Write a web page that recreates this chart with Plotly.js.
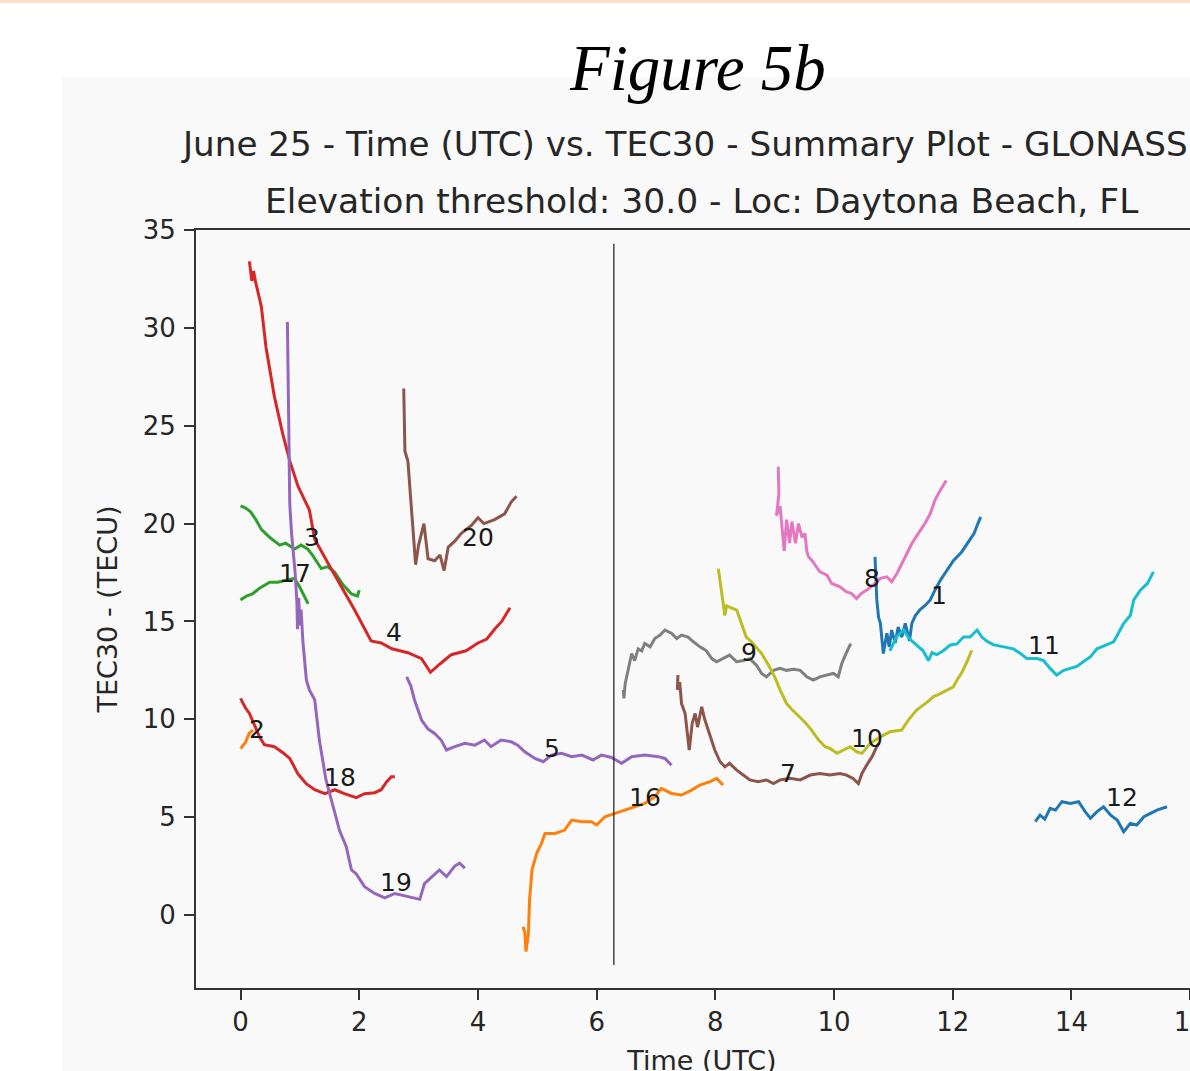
<!DOCTYPE html>
<html>
<head>
<meta charset="utf-8">
<script src="https://cdn.plot.ly/plotly-3.0.1.min.js"></script>
<style>
  html, body { margin: 0; padding: 0; background: #ffffff; overflow: hidden; width: 1190px; height: 1071px; }
  #topline { position: absolute; left: 0; top: 0; width: 1190px; height: 3px; background: #fcdcca; }
  #bg { position: absolute; left: 62px; top: 77px; width: 1128px; height: 994px; background: #f9f9f9; }
  #chart { position: absolute; left: 0; top: 0; width: 1218px; height: 1095px; }
</style>
</head>
<body>
<div id="topline"></div>
<div id="bg"></div>
<div id="chart"></div>
<script>
// ---------------- DATA ----------------
const sat1_t   = [10.69, 10.70, 10.72, 10.75, 10.78, 10.83, 10.89, 10.93, 10.97, 11.03, 11.08, 11.14, 11.20, 11.27, 11.31, 11.37, 11.45, 11.53, 11.62, 11.70, 11.79, 11.90, 12.01, 12.15, 12.27, 12.36, 12.41, 12.47];
const sat1_tec = [18.3, 17.2, 16.1, 15.2, 14.9, 13.36, 14.4, 13.7, 14.56, 13.9, 14.72, 14.2, 14.9, 14.0, 14.9, 15.3, 15.6, 15.8, 16.1, 16.6, 17.1, 17.6, 18.1, 18.55, 19.07, 19.5, 19.9, 20.34];

const sat2_t   = [0.0, 0.08, 0.15, 0.21];
const sat2_tec = [8.5, 8.8, 9.3, 9.45];

const sat3_t   = [0.0, 0.08, 0.17, 0.26, 0.35, 0.49, 0.66, 0.76, 0.91, 1.02, 1.13, 1.21, 1.36, 1.47, 1.59, 1.72, 1.87, 1.97, 2.0];
const sat3_tec = [20.9, 20.8, 20.6, 20.2, 19.7, 19.3, 18.9, 19.0, 18.7, 18.9, 18.7, 18.4, 17.7, 17.8, 17.5, 16.9, 16.4, 16.3, 16.6];

const sat4_t   = [0.15, 0.19, 0.22, 0.25, 0.35, 0.43, 0.57, 0.71, 0.83, 0.97, 1.16, 1.25, 1.47, 1.70, 1.92, 2.20, 2.37, 2.55, 2.82, 3.05, 3.20, 3.35, 3.55, 3.80, 4.00, 4.15, 4.28, 4.40, 4.54];
const sat4_tec = [33.4, 32.4, 32.9, 32.4, 31.1, 29.0, 26.5, 24.6, 23.2, 21.9, 20.7, 19.2, 18.0, 16.8, 15.6, 14.0, 13.9, 13.6, 13.4, 13.1, 12.4, 12.8, 13.3, 13.5, 13.9, 14.1, 14.6, 15.0, 15.7];

const sat5_t   = [2.80, 2.87, 2.93, 3.05, 3.16, 3.27, 3.38, 3.47, 3.61, 3.78, 3.95, 4.11, 4.22, 4.39, 4.56, 4.67, 4.79, 4.96, 5.10, 5.24, 5.41, 5.58, 5.75, 5.94, 6.08, 6.25, 6.42, 6.59, 6.81, 7.04, 7.15, 7.26];
const sat5_tec = [12.17, 11.7, 11.0, 9.96, 9.5, 9.28, 8.94, 8.43, 8.6, 8.77, 8.68, 8.94, 8.6, 8.94, 8.85, 8.68, 8.34, 8.0, 7.83, 8.17, 8.26, 8.09, 8.17, 7.92, 8.17, 8.05, 7.75, 8.09, 8.17, 8.09, 8.0, 7.66];

const sat7_t   = [7.37, 7.36, 7.40, 7.43, 7.49, 7.56, 7.61, 7.66, 7.70, 7.77, 7.82, 7.91, 7.99, 8.08, 8.16, 8.24, 8.36, 8.47, 8.58, 8.72, 8.86, 8.98, 9.09, 9.26, 9.43, 9.60, 9.76, 9.93, 10.10, 10.21, 10.32, 10.41, 10.47, 10.55, 10.64, 10.72, 10.75];
const sat7_tec = [12.26, 11.5, 11.9, 10.8, 10.3, 8.43, 9.8, 10.3, 9.6, 10.64, 10.0, 9.1, 8.43, 7.83, 7.57, 7.75, 7.4, 7.15, 6.9, 6.81, 6.9, 6.72, 6.9, 6.98, 6.9, 7.15, 7.23, 7.15, 7.23, 7.15, 6.98, 6.72, 7.23, 7.66, 8.09, 8.6, 8.77];

const sat8_t   = [9.06, 9.07, 9.03, 9.09, 9.16, 9.20, 9.25, 9.29, 9.35, 9.40, 9.46, 9.51, 9.54, 9.57, 9.63, 9.76, 9.88, 9.96, 10.10, 10.21, 10.29, 10.38, 10.46, 10.55, 10.66, 10.78, 10.89, 10.97, 11.06, 11.17, 11.31, 11.42, 11.53, 11.62, 11.70, 11.79, 11.89];
const sat8_tec = [22.9, 21.5, 20.4, 20.9, 18.6, 20.2, 19.0, 20.1, 19.0, 20.0, 19.3, 19.5, 18.6, 18.3, 18.1, 17.53, 17.36, 16.94, 16.77, 16.51, 16.43, 16.17, 16.43, 16.6, 16.86, 17.2, 17.28, 17.02, 17.45, 18.1, 18.98, 19.5, 20.0, 20.5, 21.2, 21.7, 22.2];

const sat9_t   = [6.45, 6.46, 6.48, 6.53, 6.59, 6.64, 6.70, 6.76, 6.81, 6.90, 6.98, 7.07, 7.15, 7.26, 7.35, 7.43, 7.54, 7.63, 7.74, 7.85, 7.94, 8.02, 8.13, 8.24, 8.36, 8.47, 8.58, 8.69, 8.78, 8.86, 8.98, 9.09, 9.20, 9.32, 9.43, 9.54, 9.65, 9.76, 9.88, 9.99, 10.07, 10.13, 10.19, 10.28];
const sat9_tec = [11.5, 11.07, 11.8, 12.5, 13.36, 13.0, 13.6, 13.5, 13.87, 13.7, 14.13, 14.3, 14.56, 14.4, 14.13, 14.3, 14.2, 13.96, 13.7, 13.5, 13.1, 12.94, 13.1, 13.28, 12.94, 13.0, 13.1, 12.77, 12.34, 12.17, 12.5, 12.6, 12.5, 12.55, 12.5, 12.17, 12.0, 12.17, 12.26, 12.34, 12.17, 12.85, 13.28, 13.87];

const sat10_t   = [8.05, 8.10, 8.16, 8.19, 8.27, 8.36, 8.44, 8.52, 8.61, 8.69, 8.78, 8.89, 9.00, 9.09, 9.20, 9.29, 9.40, 9.51, 9.62, 9.74, 9.85, 9.93, 10.05, 10.16, 10.27, 10.38, 10.47, 10.61, 10.78, 10.94, 11.14, 11.25, 11.39, 11.58, 11.67, 11.78, 11.90, 12.01, 12.07, 12.16, 12.24, 12.32];
const sat10_tec = [17.7, 16.6, 15.3, 15.8, 15.7, 15.58, 14.9, 14.2, 13.96, 13.7, 13.36, 12.8, 12.17, 11.5, 10.8, 10.5, 10.2, 9.85, 9.45, 8.94, 8.6, 8.51, 8.26, 8.43, 8.6, 8.34, 8.26, 8.77, 9.1, 9.36, 9.45, 9.96, 10.47, 10.9, 11.15, 11.3, 11.5, 11.66, 12.0, 12.43, 12.94, 13.53];

const sat11_t   = [10.94, 11.05, 11.17, 11.25, 11.31, 11.42, 11.50, 11.59, 11.65, 11.73, 11.84, 11.96, 12.07, 12.18, 12.29, 12.41, 12.49, 12.57, 12.69, 12.86, 13.02, 13.14, 13.25, 13.42, 13.53, 13.64, 13.75, 13.87, 13.98, 14.09, 14.20, 14.32, 14.43, 14.60, 14.71, 14.79, 14.88, 14.99, 15.05, 15.16, 15.28, 15.38];
const sat11_tec = [13.5, 14.2, 14.56, 14.2, 14.0, 13.7, 13.5, 13.0, 13.4, 13.3, 13.5, 13.8, 13.85, 14.2, 14.2, 14.56, 14.2, 14.0, 13.8, 13.7, 13.6, 13.36, 13.1, 13.1, 13.0, 12.6, 12.26, 12.5, 12.6, 12.7, 12.94, 13.2, 13.6, 13.8, 13.96, 14.4, 14.9, 15.3, 16.1, 16.6, 16.94, 17.53];

const sat12_t   = [13.39, 13.47, 13.55, 13.64, 13.73, 13.84, 13.98, 14.12, 14.23, 14.32, 14.43, 14.54, 14.66, 14.77, 14.88, 14.99, 15.10, 15.22, 15.33, 15.44, 15.61];
const sat12_tec = [4.77, 5.1, 4.9, 5.45, 5.36, 5.79, 5.7, 5.79, 5.28, 4.94, 5.28, 5.53, 5.1, 4.85, 4.25, 4.68, 4.6, 5.02, 5.19, 5.36, 5.53];

const sat16_t   = [4.76, 4.79, 4.81, 4.85, 4.87, 4.91, 4.99, 5.07, 5.13, 5.30, 5.46, 5.58, 5.75, 5.91, 6.0, 6.14, 6.31, 6.48, 6.64, 6.81, 6.98, 7.09, 7.26, 7.43, 7.60, 7.74, 7.91, 8.02, 8.13];
const sat16_tec = [-0.6, -0.9, -1.87, -0.95, 0.77, 2.3, 3.15, 3.66, 4.17, 4.17, 4.34, 4.85, 4.77, 4.77, 4.6, 5.02, 5.19, 5.36, 5.53, 5.7, 6.04, 6.47, 6.21, 6.13, 6.38, 6.64, 6.81, 6.98, 6.64];

const sat17_t   = [0.0, 0.10, 0.20, 0.32, 0.49, 0.63, 0.76, 0.91, 0.99, 1.08, 1.14];
const sat17_tec = [16.1, 16.3, 16.4, 16.7, 17.0, 17.0, 17.1, 17.2, 16.8, 16.3, 15.9];

const sat18_t   = [0.0, 0.08, 0.15, 0.25, 0.32, 0.40, 0.57, 0.71, 0.83, 0.97, 1.11, 1.25, 1.42, 1.59, 1.75, 1.95, 2.09, 2.26, 2.37, 2.46, 2.54, 2.60];
const sat18_tec = [11.07, 10.6, 10.3, 9.6, 9.1, 8.7, 8.6, 8.3, 8.0, 7.2, 6.7, 6.4, 6.2, 6.4, 6.2, 6.0, 6.2, 6.25, 6.4, 6.8, 7.06, 7.06];

const sat19_t   = [0.79, 0.80, 0.82, 0.83, 0.86, 0.88, 0.92, 0.95, 0.96, 0.98, 1.00, 1.02, 1.05, 1.11, 1.16, 1.25, 1.33, 1.44, 1.56, 1.67, 1.78, 1.87, 1.95, 2.09, 2.26, 2.43, 2.60, 2.82, 3.02, 3.10, 3.27, 3.35, 3.47, 3.61, 3.69, 3.78];
const sat19_tec = [30.3, 28.5, 24.0, 21.0, 19.5, 18.8, 17.5, 16.0, 14.6, 16.2, 14.8, 15.6, 14.0, 12.0, 11.5, 11.0, 8.9, 6.9, 5.5, 4.3, 3.5, 2.3, 2.1, 1.45, 1.1, 0.87, 1.1, 0.94, 0.8, 1.6, 2.1, 2.3, 1.96, 2.5, 2.65, 2.4];

const sat20_t   = [2.75, 2.77, 2.82, 2.91, 2.95, 3.00, 3.09, 3.16, 3.27, 3.36, 3.43, 3.50, 3.61, 3.72, 3.89, 4.00, 4.10, 4.28, 4.45, 4.56, 4.65];
const sat20_tec = [26.9, 23.7, 23.2, 19.2, 17.9, 18.9, 20.0, 18.2, 18.1, 18.4, 17.6, 18.8, 19.1, 19.5, 19.9, 20.3, 20.0, 20.2, 20.5, 21.1, 21.4];

// satellite labels (text placed in data coordinates)
const labelNames = ['1', '2', '3', '4', '5', '7', '8', '9', '10', '11', '12', '16', '17', '18', '19', '20'];
const labelTime  = [11.62, 0.12, 1.05, 2.43, 5.10, 9.08, 10.49, 8.41, 10.26, 13.25, 14.57, 6.53, 0.63, 1.39, 2.33, 3.72];
const labelTec   = [15.83, 9.0, 18.8, 13.96, 8.0, 6.72, 16.69, 12.94, 8.51, 13.28, 5.53, 5.53, 16.95, 6.55, 1.19, 18.8];

// vertical marker line
const markerTime = [6.29, 6.29];
const markerSpan = [-2.55, 34.3];

// axis ticks
const xTicks = [0, 2, 4, 6, 8, 10, 12, 14, 16];
const yTicks = [0, 5, 10, 15, 20, 25, 30, 35];

const titleLine1 = 'June 25 - Time (UTC) vs. TEC30 - Summary Plot - GLONASS';
const titleLine2 = 'Elevation threshold: 30.0 - Loc: Daytona Beach, FL';

// ---------------- CHART ----------------
const series = [
  ['1', sat1_t, sat1_tec], ['2', sat2_t, sat2_tec], ['3', sat3_t, sat3_tec], ['4', sat4_t, sat4_tec],
  ['5', sat5_t, sat5_tec], ['7', sat7_t, sat7_tec], ['8', sat8_t, sat8_tec], ['9', sat9_t, sat9_tec],
  ['10', sat10_t, sat10_tec], ['11', sat11_t, sat11_tec], ['12', sat12_t, sat12_tec], ['16', sat16_t, sat16_tec],
  ['17', sat17_t, sat17_tec], ['18', sat18_t, sat18_tec], ['19', sat19_t, sat19_tec], ['20', sat20_t, sat20_tec]
];
const cycle = ['#1f77b4', '#ff7f0e', '#2ca02c', '#d62728', '#9467bd', '#8c564b', '#e377c2', '#7f7f7f', '#bcbd22', '#17becf'];

const traces = series.map((s, i) => ({
  type: 'scatter', mode: 'lines', name: 'PRN ' + s[0],
  x: s[1], y: s[2],
  line: { color: cycle[i % 10], width: 3 },
  hoverinfo: 'skip'
}));
traces.push({
  type: 'scatter', mode: 'lines', x: markerTime, y: markerSpan,
  line: { color: '#1a1a1a', width: 1.2 }, hoverinfo: 'skip'
});

const font = 'DejaVu Sans, sans-serif';
const annotations = labelNames.map((n, i) => ({
  x: labelTime[i], y: labelTec[i], xref: 'x', yref: 'y', text: n,
  showarrow: false, xanchor: 'left', yanchor: 'bottom', xshift: -1, yshift: -7,
  font: { family: font, size: 25, color: '#1a1a1a' }
}));
annotations.push({
  x: 0.5, xref: 'paper', y: (988 - 223) / 758, yref: 'paper', xanchor: 'center', yanchor: 'bottom',
  text: titleLine2, showarrow: false, font: { family: font, size: 34.5, color: '#262626' }
});
annotations.push({
  x: 0.496, xref: 'paper', y: 1.1636, yref: 'paper', xanchor: 'center', yanchor: 'bottom',
  text: '<i>Figure 5b</i>', showarrow: false,
  font: { family: 'Liberation Serif, Times New Roman, serif', size: 65, color: '#000000' }
});

const axisCommon = {
  ticks: 'outside', ticklen: 10, tickwidth: 2, tickcolor: '#333333',
  showline: true, linecolor: '#333333', linewidth: 2, mirror: true,
  showgrid: false, zeroline: false, automargin: false,
  tickfont: { family: font, size: 26, color: '#262626' }
};

const layout = {
  width: 1218, height: 1095,
  margin: { l: 196, r: 10, t: 230, b: 107 },
  paper_bgcolor: 'rgba(0,0,0,0)', plot_bgcolor: 'rgba(0,0,0,0)',
  showlegend: false,
  font: { family: font, color: '#262626' },
  title: {
    text: titleLine1, x: 183 / 1218, xref: 'container', xanchor: 'left',
    y: 1 - 156 / 1095, yref: 'container', yanchor: 'bottom',
    font: { family: font, size: 34.2, color: '#262626' }
  },
  xaxis: Object.assign({}, axisCommon, {
    range: [-0.75, 16.3], tickvals: xTicks,
    title: { text: 'Time (UTC)', standoff: 15, font: { family: font, size: 27, color: '#262626' } }
  }),
  yaxis: Object.assign({}, axisCommon, {
    range: [-3.73, 35.0], tickvals: yTicks, ticklabelstandoff: 3,
    title: { text: 'TEC30 - (TECU)', standoff: 17, font: { family: font, size: 27, color: '#262626' } }
  }),
  annotations: annotations
};

Plotly.newPlot('chart', traces, layout, { displayModeBar: false, staticPlot: true });
</script>
</body>
</html>
